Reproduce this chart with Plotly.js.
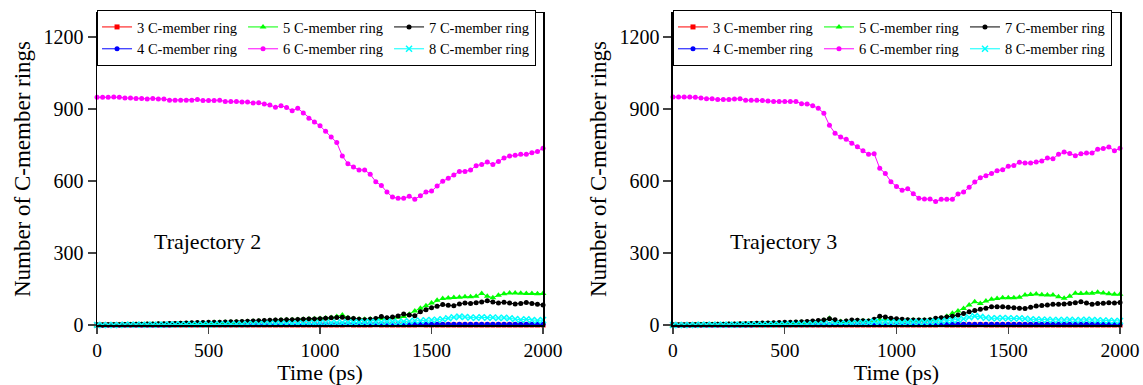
<!DOCTYPE html>
<html>
<head>
<meta charset="utf-8">
<script src="https://cdn.plot.ly/plotly-3.0.1.min.js"></script>
<style>html,body{margin:0;padding:0;background:#fff;}#chart{width:1143px;height:385px;}</style>
</head>
<body>
<div id="chart"></div>
<script>
// Time (ps)
var time = [0,25,50,75,100,125,150,175,200,225,250,275,300,325,350,375,400,425,450,475,
500,525,550,575,600,625,650,675,700,725,750,775,800,825,850,875,900,925,950,975,
1000,1025,1050,1075,1100,1125,1150,1175,1200,1225,1250,1275,1300,1325,1350,1375,1400,1425,1450,1475,
1500,1525,1550,1575,1600,1625,1650,1675,1700,1725,1750,1775,1800,1825,1850,1875,1900,1925,1950,1975,2000];

var ringLabels = ["3 C-member ring","4 C-member ring","5 C-member ring","6 C-member ring","7 C-member ring","8 C-member ring"];
var legendColumns = ["c1","c1","c2","c2","c3","c3"];
var xTicks = [0,500,1000,1500,2000];
var yTicks = [0,300,600,900,1200];

// Trajectory 2
var t2_ring3 = [0,0,0,0,0,0,0,0,0,0, 0,0,0,0,0,0,0,0,0,0, 0,0,0,0,0,0,0,0,0,0, 0,0,0,0,0,0,0,0,0,0,
0,0,0,0,0,1,0,0,0,0, 1,0,0,0,0,0,0,0,1,0, 0,0,0,0,0,0,0,0,0,0, 0,0,0,0,0,0,0,0,0,0, 0];
var t2_ring4 = [0,0,0,0,0,0,0,0,0,0, 0,0,0,0,1,1,1,1,1,1, 1,1,1,1,1,1,1,1,2,2, 2,2,2,2,2,2,2,2,2,3,
3,3,3,3,3,3,3,4,4,4, 4,4,4,3,3,3,3,3,3,3, 3,3,3,3,3,3,3,3,3,3, 3,3,3,3,3,3,3,3,3,3, 3];
var t2_ring5 = [0,0,0,1,1,1,2,2,2,3, 3,4,4,5,5,6,6,7,8,8, 9,10,10,11,12,13,14,15,16,17, 18,19,20,21,22,22,23,24,25,26,
27,29,31,35,42,30,27,25,24,25, 26,27,28,30,32,35,45,58,70,80, 92,103,110,113,115,116,118,118,120,131, 120,114,124,130,133,133,132,131,131,130, 131];
var t2_ring6 = [949,949,949,950,949,946,946,944,944,942, 944,942,942,937,937,937,937,937,940,935,
935,935,937,931,931,931,929,929,925,926, 921,917,907,914,906,893,903,883,862,846,
830,807,783,760,704,672,658,646,646,628, 597,581,554,533,528,528,536,524,539,554,
558,579,599,611,625,640,640,646,664,669, 679,669,681,696,704,707,711,711,718,723, 736];
var t2_ring7 = [0,0,1,1,1,2,2,3,3,4, 4,5,5,6,6,7,8,9,10,10, 11,12,12,13,14,14,15,16,17,18, 19,20,21,21,22,22,23,24,25,25,
26,28,30,31,32,29,27,24,22,24, 27,35,30,33,38,46,42,39,55,64, 72,78,85,82,80,88,92,90,93,96, 101,96,92,95,92,88,90,94,90,86, 83];
var t2_ring8 = [0,0,0,0,0,1,1,1,1,1, 1,1,1,2,2,2,2,2,2,2, 2,2,3,3,3,3,3,4,4,4, 4,5,5,5,5,6,6,6,7,7,
8,8,9,9,10,10,10,11,11,12, 12,12,13,13,12,14,16,18,18,20, 21,22,24,28,32,35,33,31,30,32, 30,31,29,30,28,25,22,24,21,19, 21];

// Trajectory 3
var t3_ring3 = [0,0,0,0,0,0,0,0,0,0, 0,0,0,0,0,0,0,0,0,0, 0,0,0,0,0,0,0,0,0,0, 0,0,0,0,0,0,0,0,0,0,
0,0,0,0,0,0,0,0,1,0, 0,0,0,0,0,1,0,0,0,0, 0,0,0,0,0,0,0,0,0,0, 0,0,0,0,0,0,0,0,0,0, 0];
var t3_ring4 = [0,0,0,0,0,0,0,0,0,0, 0,0,0,0,0,1,1,1,1,1, 1,1,1,1,1,1,1,1,1,2, 2,2,2,2,2,2,2,2,2,2,
3,3,3,3,3,3,3,3,3,3, 3,3,3,3,3,3,3,3,3,3, 3,3,3,3,3,3,3,3,3,3, 3,3,3,3,3,3,3,3,3,3, 3];
var t3_ring5 = [0,0,0,0,1,1,1,2,2,2, 3,3,4,4,5,5,6,6,7,8, 8,9,10,11,12,14,16,20,28,18, 15,16,18,19,18,17,20,22,24,23,
22,21,21,21,20,21,22,24,28,36, 49,58,69,83,97,90,100,107,110,114, 114,114,116,125,127,129,126,125,125,118, 111,120,132,131,132,132,136,133,130,128, 128];
var t3_ring6 = [950,950,950,950,949,946,943,943,940,940, 940,942,943,937,937,937,935,933,931,931,
931,931,931,922,921,914,903,882,832,799, 783,774,757,743,726,711,714,653,631,597,
577,562,568,547,528,525,525,515,524,524, 524,546,554,574,596,614,622,631,643,647,
661,665,678,675,675,679,683,696,693,711, 721,715,705,714,717,717,732,735,742,726, 736];
var t3_ring7 = [0,0,0,1,1,1,2,2,3,3, 4,4,5,5,6,7,8,8,9,10, 11,12,13,14,15,17,19,21,26,22, 14,17,21,20,18,17,24,37,33,28,
26,24,22,21,21,21,22,28,30,33, 37,42,48,55,60,66,70,76,76,76, 74,72,70,69,74,79,81,83,86,87, 88,90,93,97,92,87,90,91,93,92, 94];
var t3_ring8 = [0,0,0,0,0,1,1,1,1,1, 1,1,1,2,2,2,2,2,2,2, 2,3,3,3,3,4,4,4,5,5, 6,6,7,8,9,10,14,12,12,11,
10,10,11,12,12,12,13,14,16,18, 20,22,26,32,37,34,30,28,28,29, 28,27,28,26,24,23,22,22,21,21, 21,22,20,21,22,21,20,19,18,17, 17];

var colors = ["#ff0000","#0000ff","#00ff00","#ff00ff","#000000","#00ffff"];
var symbols = ["square","circle","triangle-up","circle","circle","x-thin-open"];
var sizes = [5,5,6,5,5,6];

var FONT = "Liberation Serif";
var traj2 = [t2_ring3,t2_ring4,t2_ring5,t2_ring6,t2_ring7,t2_ring8];
var traj3 = [t3_ring3,t3_ring4,t3_ring5,t3_ring6,t3_ring7,t3_ring8];

var data = [];
function addPanel(series, xa, ya, leg, tag){
  for (var k=0;k<series.length;k++){
    data.push({
      type:"scatter", mode:"lines+markers", x:time, y:series[k],
      xaxis:xa, yaxis:ya, legend:leg, name:ringLabels[k], legendgroup:tag+legendColumns[k],
      line:{color:colors[k], width:1},
      marker:{color:colors[k], symbol:symbols[k], size:sizes[k], line:{color:colors[k], width: symbols[k]==="x-thin-open"?1.5:0}},
      cliponaxis:false
    });
  }
}
addPanel(traj2,"x","y","legend","a");
addPanel(traj3,"x2","y2","legend2","b");

function xax(dom, anchor){
  return {domain:dom, anchor:anchor, range:[0,2000], tickvals:xTicks, ticks:"outside", ticklen:7, tickwidth:1.2,
    showline:true, mirror:true, linecolor:"#000", linewidth:1.5, showgrid:false, zeroline:false,
    tickfont:{family:FONT, size:19.5, color:"#000"},
    title:{text:"Time (ps)", font:{family:FONT, size:22, color:"#000"}, standoff:3}, automargin:false};
}
function yax(anchor){
  return {domain:[0.1558,0.9662], range:[0,1300], tickvals:yTicks, ticks:"outside", ticklen:8, tickwidth:1.2,
    showline:true, mirror:true, linecolor:"#000", linewidth:1.5, showgrid:false, zeroline:false,
    tickfont:{family:FONT, size:20, color:"#000"}, anchor:anchor,
    title:{text:"Number of C-member rings", font:{family:FONT, size:23, color:"#000"}, standoff:6}, automargin:false};
}
function leg(x){
  return {x:x, y:0.974, xanchor:"left", yanchor:"top", orientation:"h", bgcolor:"#fff",
    bordercolor:"#000", borderwidth:1, font:{family:FONT, size:14.5, color:"#000"},
    entrywidth:101, entrywidthmode:"pixels", itemwidth:30, tracegroupgap:0, traceorder:"grouped"};
}

var layout = {
  width:1143, height:385, margin:{l:0,r:0,t:0,b:0, autoexpand:false}, paper_bgcolor:"#fff", plot_bgcolor:"#fff",
  font:{family:FONT, color:"#000"},
  xaxis:xax([0.0849,0.4751],"y"), yaxis:yax("x"),
  xaxis2:xax([0.5888,0.9799],"y2"), yaxis2:yax("x2"),
  legend:leg(0.0849), legend2:leg(0.5888),
  annotations:[
    {xref:"x", yref:"y", x:495, y:346, text:"Trajectory 2", showarrow:false, font:{family:FONT, size:22, color:"#000"}},
    {xref:"x2", yref:"y2", x:495, y:346, text:"Trajectory 3", showarrow:false, font:{family:FONT, size:22, color:"#000"}}
  ]
};

Plotly.newPlot("chart", data, layout, {displayModeBar:false, staticPlot:true});
</script>
</body>
</html>
